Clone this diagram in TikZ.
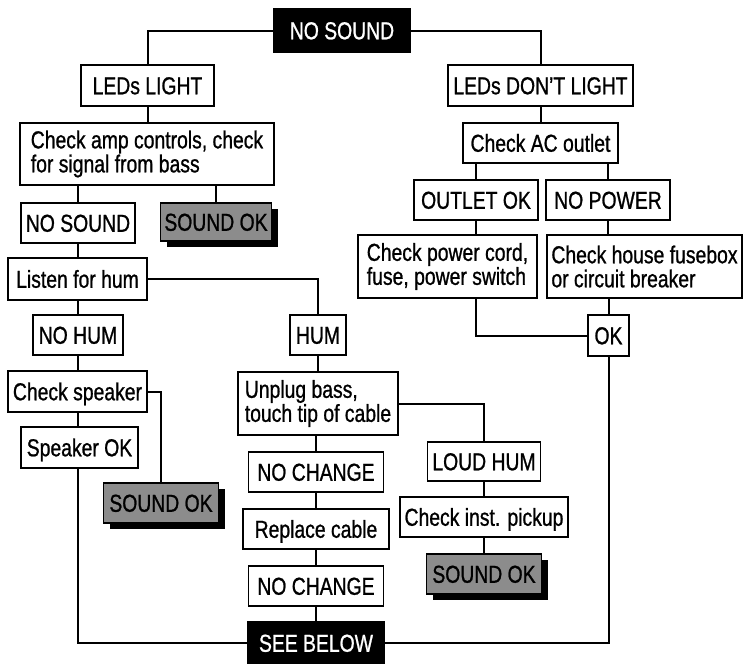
\documentclass[tikz,border=0pt]{standalone}
\usepackage{fontspec}
\setmainfont[FakeStretch=0.79,FakeBold=0.9]{Liberation Sans}
\usetikzlibrary{shadows}
\definecolor{okgray}{RGB}{140,140,140}
\begin{document}
\begin{tikzpicture}[x=1pt,y=-1pt,
  every node/.style={font=\fontsize{24.5}{24}\selectfont},
  bx/.style={draw=black, line width=1.7pt, fill=white, inner sep=0pt, text height=17.5pt, text depth=0pt},
  bxtwo/.style={draw=black, line width=1.7pt, fill=white, inner sep=0pt, align=left},
  dark/.style={bx, fill=black, text=white},
  okbox/.style={bx, fill=okgray, drop shadow={shadow xshift=6pt, shadow yshift=-6pt, fill=black, opacity=1}},
  conn/.style={draw=black, line width=2pt}]
\useasboundingbox (0,0) rectangle (745,664);
% top
\node[dark, minimum width=136pt, minimum height=43pt] (nosound) at (342,30.5) {NO SOUND};
% left branch
\node[bx, minimum width=133pt, minimum height=41pt] (ledsl) at (147.5,85.5) {LEDs LIGHT};
\node[bxtwo, minimum width=254pt, minimum height=62pt] (checkamp) at (147,154) {Check amp controls, check\\for signal from bass};
\node[bx, minimum width=114pt, minimum height=40pt] (nosoundb) at (78,223) {NO SOUND};
\node[okbox, minimum width=111pt, minimum height=38pt] (soundoka) at (216,222) {SOUND OK};
\node[bx, minimum width=139pt, minimum height=42pt] (listen) at (77.5,279) {Listen for hum};
\node[bx, minimum width=90pt, minimum height=40pt] (nohum) at (78,335) {NO HUM};
\node[bx, minimum width=56pt, minimum height=40pt] (hum) at (318,335) {HUM};
\node[bx, minimum width=139pt, minimum height=41pt] (checkspk) at (77.5,391.5) {Check speaker};
\node[bx, minimum width=117pt, minimum height=41pt] (spkok) at (79.5,447.5) {Speaker OK};
\node[okbox, minimum width=115pt, minimum height=40pt] (soundokb) at (161,503) {SOUND OK};
% middle column
\node[bxtwo, minimum width=160pt, minimum height=63pt] (unplug) at (318,403.5) {Unplug bass,\\touch tip of cable};
\node[bx, minimum width=135pt, minimum height=40pt] (nochangea) at (316,472) {NO CHANGE};
\node[bx, minimum width=146pt, minimum height=40pt] (replace) at (316,529) {Replace cable};
\node[bx, minimum width=135pt, minimum height=40pt] (nochangeb) at (316,586) {NO CHANGE};
\node[dark, minimum width=136pt, minimum height=42pt] (seebelow) at (316,643) {SEE BELOW};
\node[bx, minimum width=113pt, minimum height=39pt] (loudhum) at (484,461.5) {LOUD HUM};
\node[bx, minimum width=168pt, minimum height=40pt] (pickup) at (484,517) {Check inst. pickup};
\node[okbox, minimum width=115pt, minimum height=40pt] (soundokc) at (484,574) {SOUND OK};
% right branch
\node[bx, minimum width=185pt, minimum height=41pt] (ledsd) at (540.5,85.5) {LEDs DON'T LIGHT};
\node[bx, minimum width=155pt, minimum height=40pt] (checkac) at (540.5,143) {Check AC outlet};
\node[bx, minimum width=124pt, minimum height=40pt] (outletok) at (476,200) {OUTLET OK};
\node[bx, minimum width=124pt, minimum height=40pt] (nopower) at (608,200) {NO POWER};
\node[bxtwo, minimum width=179pt, minimum height=63pt] (powercord) at (447.5,266.5) {Check power cord,\\fuse, power switch};
\node[bxtwo, minimum width=195pt, minimum height=63pt] (fusebox) at (644.5,266.5) {Check house fusebox\\or circuit breaker};
\node[bx, minimum width=41pt, minimum height=41pt] (ok) at (608.5,335.5) {OK};
% connectors
\path[conn] (nosound.west) -| (ledsl.north);
\path[conn] (nosound.east) -| (ledsd.north);
\path[conn] (ledsl.south) -- (ledsl.south |- checkamp.north);
\path[conn] (nosoundb.north |- checkamp.south) -- (nosoundb.north);
\path[conn] (soundoka.north |- checkamp.south) -- (soundoka.north);
\path[conn] (nosoundb.south) -- (nosoundb.south |- listen.north);
\path[conn] (listen.east) -| (hum.north);
\path[conn] (nohum.north |- listen.south) -- (nohum.north);
\path[conn] (nohum.south) -- (nohum.south |- checkspk.north);
\path[conn] (spkok.north -| nohum.south) |- (checkspk.south);
\path[conn] (checkspk.east) -| (soundokb.north);
\path[conn] (spkok.south -| nohum.south) |- (seebelow.west);
\path[conn] (hum.south) -- (hum.south |- unplug.north);
\path[conn] (nochangea.north |- unplug.south) -- (nochangea.north);
\path[conn] (nochangea.south) -- (replace.north);
\path[conn] (replace.south) -- (nochangeb.north);
\path[conn] (nochangeb.south) -- (seebelow.north);
\path[conn] (unplug.east) -| (loudhum.north);
\path[conn] (loudhum.south) -- (pickup.north);
\path[conn] (pickup.south) -- (soundokc.north);
\path[conn] (ledsd.south) -- (ledsd.south |- checkac.north);
\path[conn] (outletok.north |- checkac.south) -- (outletok.north);
\path[conn] (nopower.north |- checkac.south) -- (nopower.north);
\path[conn] (outletok.south) -- (outletok.south |- powercord.north);
\path[conn] (nopower.south) -- (nopower.south |- fusebox.north);
\path[conn] (outletok.south |- powercord.south) |- (ok.west);
\path[conn] (ok.north |- fusebox.south) -- (ok.north);
\path[conn] (ok.south) |- (seebelow.east);
\end{tikzpicture}
\end{document}
